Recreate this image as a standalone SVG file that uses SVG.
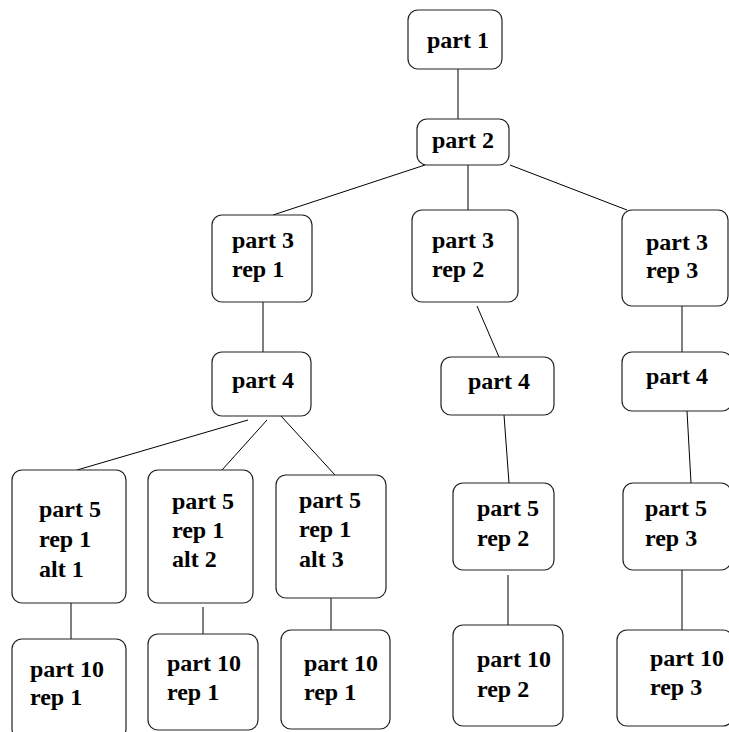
<svg xmlns="http://www.w3.org/2000/svg" width="729" height="732" viewBox="0 0 729 732">
  <style>
    .box { fill: #ffffff; stroke: #222222; stroke-width: 1.2; }
    .lbl { font-family: "Liberation Serif", "Times New Roman", serif; font-weight: bold; font-size: 24px; fill: #000000; }
    .edge { stroke: #000000; stroke-width: 1; fill: none; }
  </style>
  <rect width="729" height="732" fill="#ffffff"/>

  <!-- connectors -->
  <g id="edges" class="edge">
    <line x1="458" y1="69" x2="458" y2="119"/>
    <line x1="425" y1="165" x2="273" y2="215"/>
    <line x1="468" y1="165" x2="468" y2="210"/>
    <line x1="510" y1="165" x2="627" y2="210"/>
    <line x1="263" y1="302" x2="263" y2="352"/>
    <line x1="477" y1="306" x2="499" y2="357"/>
    <line x1="682" y1="306" x2="682" y2="352"/>
    <line x1="248" y1="420" x2="77" y2="470"/>
    <line x1="267" y1="420" x2="222" y2="470"/>
    <line x1="281" y1="416" x2="335" y2="475"/>
    <line x1="504" y1="415" x2="509" y2="483"/>
    <line x1="687" y1="411" x2="691" y2="483"/>
    <line x1="71" y1="603" x2="71" y2="639"/>
    <line x1="203" y1="607" x2="203" y2="634"/>
    <line x1="331" y1="598" x2="331" y2="630"/>
    <line x1="508" y1="575" x2="508" y2="625"/>
    <line x1="682" y1="570" x2="682" y2="630"/>
  </g>

  <!-- nodes -->
  <g id="part1">
    <rect class="box" x="408" y="10" width="94" height="59" rx="10"/>
    <text class="lbl" x="427" y="48">part 1</text>
  </g>
  <g id="part2">
    <rect class="box" x="417" y="119" width="92" height="46" rx="10"/>
    <text class="lbl" x="432" y="148">part 2</text>
  </g>

  <g id="part3rep1">
    <rect class="box" x="212" y="215" width="100" height="87" rx="10"/>
    <text class="lbl" x="232" y="248">part 3</text>
    <text class="lbl" x="232" y="277">rep 1</text>
  </g>
  <g id="part3rep2">
    <rect class="box" x="412" y="210" width="106" height="92" rx="10"/>
    <text class="lbl" x="432" y="248">part 3</text>
    <text class="lbl" x="432" y="277">rep 2</text>
  </g>
  <g id="part3rep3">
    <rect class="box" x="622" y="210" width="106" height="96" rx="10"/>
    <text class="lbl" x="646" y="250">part 3</text>
    <text class="lbl" x="646" y="278">rep 3</text>
  </g>

  <g id="part4rep1">
    <rect class="box" x="212" y="352" width="99" height="64" rx="10"/>
    <text class="lbl" x="232" y="388">part 4</text>
  </g>
  <g id="part4rep2">
    <rect class="box" x="441" y="357" width="113" height="58" rx="10"/>
    <text class="lbl" x="468" y="389">part 4</text>
  </g>
  <g id="part4rep3">
    <rect class="box" x="622" y="352" width="110" height="59" rx="10"/>
    <text class="lbl" x="646" y="384">part 4</text>
  </g>

  <g id="part5alt1">
    <rect class="box" x="12" y="470" width="114" height="133" rx="10"/>
    <text class="lbl" x="39" y="517">part 5</text>
    <text class="lbl" x="39" y="547">rep 1</text>
    <text class="lbl" x="39" y="577">alt 1</text>
  </g>
  <g id="part5alt2">
    <rect class="box" x="148" y="470" width="105" height="133" rx="10"/>
    <text class="lbl" x="172" y="509">part 5</text>
    <text class="lbl" x="172" y="538">rep 1</text>
    <text class="lbl" x="172" y="567">alt 2</text>
  </g>
  <g id="part5alt3">
    <rect class="box" x="276" y="475" width="110" height="123" rx="10"/>
    <text class="lbl" x="299" y="508">part 5</text>
    <text class="lbl" x="299" y="537">rep 1</text>
    <text class="lbl" x="299" y="567">alt 3</text>
  </g>
  <g id="part5rep2">
    <rect class="box" x="453" y="483" width="101" height="87" rx="10"/>
    <text class="lbl" x="477" y="516">part 5</text>
    <text class="lbl" x="477" y="546">rep 2</text>
  </g>
  <g id="part5rep3">
    <rect class="box" x="623" y="483" width="108" height="87" rx="10"/>
    <text class="lbl" x="645" y="516">part 5</text>
    <text class="lbl" x="645" y="546">rep 3</text>
  </g>

  <g id="part10alt1">
    <rect class="box" x="12" y="639" width="114" height="100" rx="10"/>
    <text class="lbl" x="30" y="677">part 10</text>
    <text class="lbl" x="30" y="705">rep 1</text>
  </g>
  <g id="part10alt2">
    <rect class="box" x="148" y="634" width="110" height="96" rx="10"/>
    <text class="lbl" x="167" y="671">part 10</text>
    <text class="lbl" x="167" y="700">rep 1</text>
  </g>
  <g id="part10alt3">
    <rect class="box" x="281" y="630" width="109" height="99" rx="10"/>
    <text class="lbl" x="304" y="671">part 10</text>
    <text class="lbl" x="304" y="700">rep 1</text>
  </g>
  <g id="part10rep2">
    <rect class="box" x="453" y="625" width="110" height="101" rx="10"/>
    <text class="lbl" x="477" y="667">part 10</text>
    <text class="lbl" x="477" y="697">rep 2</text>
  </g>
  <g id="part10rep3">
    <rect class="box" x="617" y="630" width="116" height="96" rx="10"/>
    <text class="lbl" x="650" y="666">part 10</text>
    <text class="lbl" x="650" y="695">rep 3</text>
  </g>
</svg>
